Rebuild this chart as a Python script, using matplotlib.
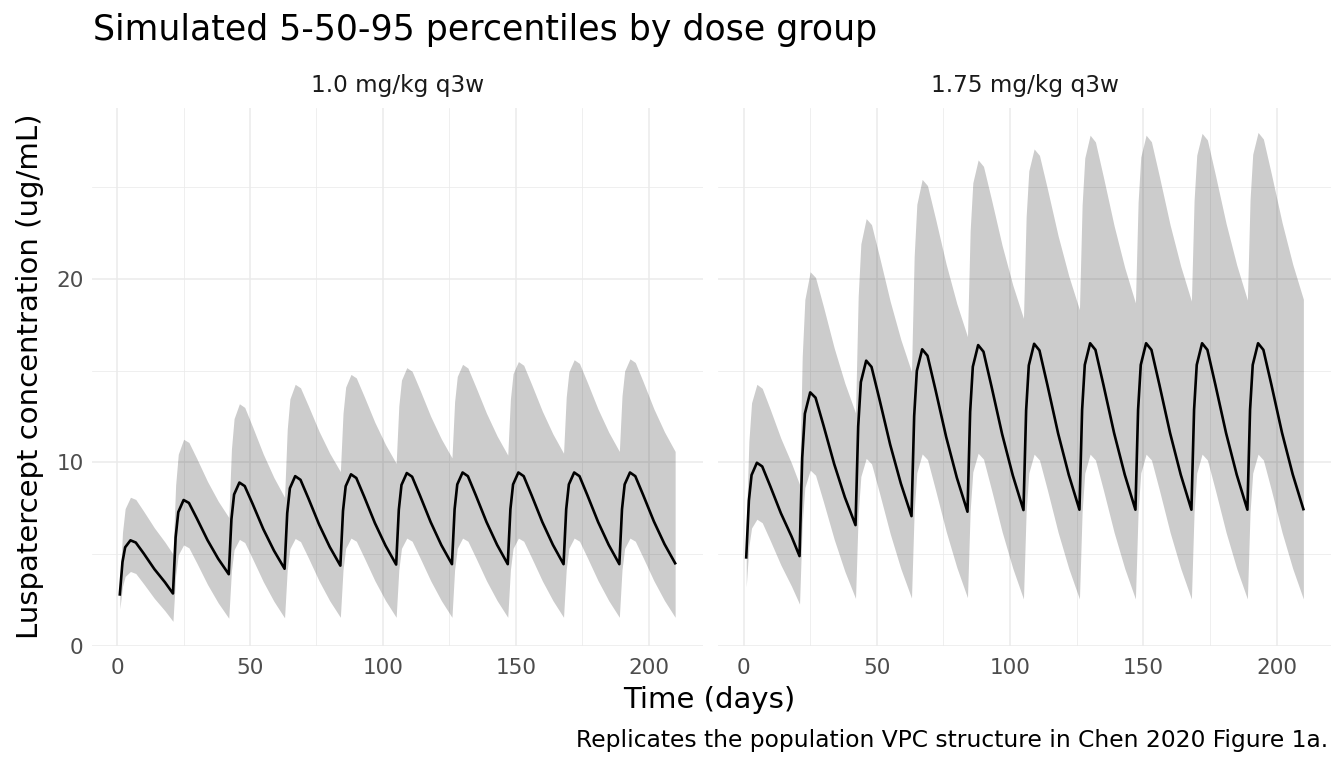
import matplotlib
matplotlib.use("Agg")
import matplotlib.pyplot as plt

# sampling days (dose every 21 days, read at the same offsets in each cycle)
time_days = [1, 2, 3, 5, 7, 10, 14, 18,
             21, 22, 23, 25, 27, 30, 34, 38,
             42, 43, 44, 46, 48, 51, 55, 59,
             63, 64, 65, 67, 69, 72, 76, 80,
             84, 85, 86, 88, 90, 93, 97, 101,
             105, 106, 107, 109, 111, 114, 118, 122,
             126, 127, 128, 130, 132, 135, 139, 143,
             147, 148, 149, 151, 153, 156, 160, 164,
             168, 169, 170, 172, 174, 177, 181, 185,
             189, 190, 191, 193, 195, 198, 202, 206,
             210]

# 1.0 mg/kg q3w
p50_low = [2.8, 4.57, 5.37, 5.75, 5.63, 5.03, 4.18, 3.46,
           2.85, 5.91, 7.29, 7.95, 7.79, 6.94, 5.76, 4.75,
           3.9, 6.9, 8.25, 8.9, 8.71, 7.73, 6.36, 5.19,
           4.2, 7.23, 8.59, 9.25, 9.05, 8.03, 6.61, 5.39,
           4.37, 7.36, 8.7, 9.35, 9.15, 8.12, 6.69, 5.46,
           4.43, 7.42, 8.77, 9.42, 9.22, 8.18, 6.74, 5.49,
           4.45, 7.45, 8.8, 9.45, 9.25, 8.2, 6.75, 5.5,
           4.45, 7.45, 8.8, 9.45, 9.25, 8.2, 6.75, 5.5,
           4.45, 7.45, 8.8, 9.45, 9.25, 8.2, 6.75, 5.5,
           4.45, 7.45, 8.8, 9.45, 9.25, 8.21, 6.78, 5.54,
           4.5]
p95_low = [3.3, 6.18, 7.48, 8.1, 7.98, 7.33, 6.43, 5.65,
           5.0, 8.76, 10.45, 11.26, 11.09, 10.2, 8.96, 7.89,
           7.0, 10.72, 12.39, 13.2, 13.0, 11.93, 10.45, 9.17,
           8.1, 11.8, 13.46, 14.26, 14.07, 13.07, 11.69, 10.5,
           9.5, 12.68, 14.11, 14.8, 14.61, 13.59, 12.18, 10.97,
           9.95, 13.08, 14.49, 15.17, 14.97, 13.94, 12.51, 11.28,
           10.25, 13.31, 14.69, 15.35, 15.15, 14.11, 12.68, 11.44,
           10.4, 13.46, 14.84, 15.5, 15.3, 14.25, 12.8, 11.55,
           10.5, 13.56, 14.94, 15.6, 15.4, 14.35, 12.9, 11.65,
           10.6, 13.63, 14.99, 15.65, 15.45, 14.39, 12.92, 11.66,
           10.6]
p05_low = [2.0, 3.23, 3.78, 4.05, 3.94, 3.37, 2.58, 1.9,
           1.33, 3.83, 4.96, 5.5, 5.34, 4.5, 3.34, 2.34,
           1.5, 4.08, 5.24, 5.8, 5.63, 4.73, 3.49, 2.42,
           1.52, 4.12, 5.29, 5.85, 5.68, 4.78, 3.53, 2.45,
           1.55, 4.14, 5.31, 5.87, 5.7, 4.79, 3.54, 2.46,
           1.55, 4.14, 5.31, 5.87, 5.7, 4.79, 3.54, 2.46,
           1.55, 4.14, 5.31, 5.87, 5.7, 4.79, 3.54, 2.46,
           1.55, 4.14, 5.31, 5.87, 5.7, 4.79, 3.54, 2.46,
           1.55, 4.14, 5.31, 5.87, 5.7, 4.79, 3.54, 2.46,
           1.55, 4.14, 5.31, 5.87, 5.7, 4.79, 3.54, 2.46,
           1.55]

# 1.75 mg/kg q3w
p50_high = [4.82, 7.92, 9.31, 9.98, 9.78, 8.71, 7.23, 5.96,
            4.89, 10.25, 12.66, 13.82, 13.53, 12.01, 9.91, 8.1,
            6.58, 11.96, 14.38, 15.55, 15.21, 13.43, 10.97, 8.85,
            7.07, 12.53, 14.99, 16.17, 15.82, 13.96, 11.39, 9.17,
            7.31, 12.76, 15.22, 16.4, 16.04, 14.15, 11.54, 9.29,
            7.4, 12.84, 15.29, 16.47, 16.11, 14.21, 11.58, 9.32,
            7.42, 12.87, 15.32, 16.5, 16.14, 14.23, 11.6, 9.33,
            7.42, 12.87, 15.32, 16.5, 16.14, 14.23, 11.6, 9.33,
            7.42, 12.87, 15.32, 16.5, 16.14, 14.23, 11.6, 9.33,
            7.42, 12.87, 15.32, 16.5, 16.14, 14.24, 11.61, 9.35,
            7.45]
p95_high = [6.5, 11.16, 13.25, 14.26, 14.04, 12.9, 11.31, 9.95,
            8.8, 15.76, 18.89, 20.4, 20.09, 18.48, 16.24, 14.32,
            12.7, 19.06, 21.92, 23.3, 22.97, 21.21, 18.79, 16.7,
            14.95, 21.24, 24.08, 25.44, 25.1, 23.3, 20.81, 18.66,
            16.86, 22.64, 25.25, 26.5, 26.15, 24.34, 21.83, 19.67,
            17.86, 23.4, 25.9, 27.1, 26.75, 24.91, 22.36, 20.17,
            18.33, 24.04, 26.61, 27.85, 27.48, 25.56, 22.91, 20.62,
            18.7, 24.19, 26.66, 27.85, 27.49, 25.59, 22.96, 20.7,
            18.8, 24.29, 26.76, 27.95, 27.59, 25.68, 23.04, 20.77,
            18.86, 24.34, 26.81, 28.0, 27.64, 25.73, 23.09, 20.81,
            18.9]
p05_high = [3.2, 5.42, 6.42, 6.9, 6.71, 5.74, 4.4, 3.24,
            2.27, 6.66, 8.63, 9.58, 9.3, 7.83, 5.8, 4.05,
            2.58, 7.16, 9.23, 10.22, 9.92, 8.32, 6.11, 4.2,
            2.6, 7.32, 9.44, 10.46, 10.15, 8.5, 6.23, 4.27,
            2.62, 7.35, 9.48, 10.5, 10.18, 8.51, 6.21, 4.22,
            2.55, 7.29, 9.42, 10.45, 10.13, 8.48, 6.18, 4.21,
            2.55, 7.29, 9.42, 10.45, 10.13, 8.48, 6.18, 4.21,
            2.55, 7.29, 9.42, 10.45, 10.13, 8.48, 6.18, 4.21,
            2.55, 7.29, 9.42, 10.45, 10.13, 8.48, 6.18, 4.21,
            2.55, 7.29, 9.42, 10.45, 10.13, 8.48, 6.18, 4.21,
            2.55]

groups = ["1.0 mg/kg q3w", "1.75 mg/kg q3w"]
panels = [(p05_low, p50_low, p95_low), (p05_high, p50_high, p95_high)]

fig = plt.figure(figsize=(13.44, 7.68), dpi=100)
ax_left = fig.add_axes([0.0685, 0.1592, 0.4545, 0.7006])
ax_right = fig.add_axes([0.5345, 0.1592, 0.4560, 0.7006])

for ax, name, (lo, med, hi) in zip([ax_left, ax_right], groups, panels):
    ax.fill_between(time_days, lo, hi, color="black", alpha=0.2, linewidth=0)
    ax.plot(time_days, med, color="black", lw=1.9)
    ax.set_xlim(-9.45, 220.45)
    ax.set_ylim(0, 29.35)
    ax.set_xticks([0, 50, 100, 150, 200])
    ax.set_xticks([25, 75, 125, 175], minor=True)
    ax.set_yticks([0, 10, 20])
    ax.set_yticks([5, 15, 25], minor=True)
    ax.grid(which="major", color="#EBEBEB", lw=1.1)
    ax.grid(which="minor", color="#EBEBEB", lw=0.55)
    ax.set_axisbelow(True)
    for s in ax.spines.values():
        s.set_visible(False)
    ax.tick_params(which="both", length=0, labelsize=15.5, labelcolor="#4D4D4D")
    ax.tick_params(axis="x", pad=9)
    ax.tick_params(axis="y", pad=6)
    ax.text(0.5, 1.0403, name, transform=ax.transAxes, fontsize=16.7, color="#1A1A1A",
            ha="center", va="center")

ax_right.tick_params(labelleft=False)

fig.text(0.069, 0.961, "Simulated 5-50-95 percentiles by dose group", fontsize=25,
         ha="left", va="center")
fig.text(0.022, 0.51, "Luspatercept concentration (ug/mL)", fontsize=21,
         rotation=90, ha="center", va="center")
fig.text(0.528, 0.088, "Time (days)", fontsize=21, ha="center", va="center")
fig.text(0.988, 0.036, "Replicates the population VPC structure in Chen 2020 Figure 1a.",
         fontsize=16.8, ha="right", va="center")

fig.savefig("out.png", dpi=100)
